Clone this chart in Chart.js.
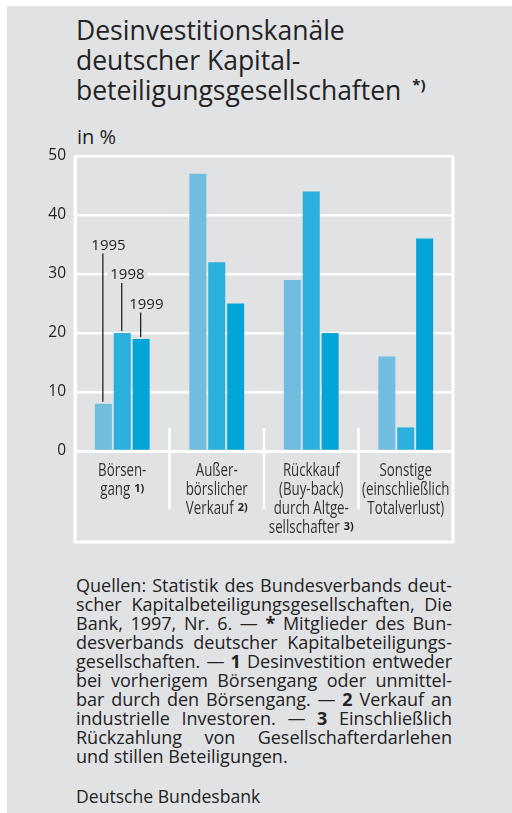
<!DOCTYPE html>
<html lang="de">
<head>
    <meta charset="UTF-8">
    <title>Desinvestitionskanäle</title>
    <style>
        * { margin: 0; padding: 0; box-sizing: border-box; }
        body { background: #fff; width: 512px; height: 813px; position: relative; overflow: hidden; font-family: "Open Sans", sans-serif; color: #232323; }
        .panel { position: absolute; left: 7px; top: 6px; width: 505px; height: 807px; background: #e1e2e4; }
        .title { position: absolute; left: 76px; top: 14.7px; font-size: 26.5px; line-height: 30px; white-space: nowrap; }
        .title sup { font-size: 15px; line-height: 0; font-weight: bold; vertical-align: 10px; margin-left: 4px; }
        .unit { position: absolute; left: 77px; top: 127px; font-size: 20px; line-height: 20px; }
        #chart { position: absolute; left: 0; top: 120px; }
        .notes { position: absolute; left: 76px; top: 575.5px; width: 376px; font-size: 18px; line-height: 19.1px; }
        .notes div { white-space: nowrap; text-align: justify; text-align-last: justify; }
        .notes div.last { text-align-last: left; }
        .source { position: absolute; left: 76px; top: 786.5px; font-size: 17.6px; line-height: 19.1px; }
    </style>
    <script src="https://cdn.jsdelivr.net/npm/chart.js"></script>
</head>
<body>
    <div class="panel"></div>
    <div class="title">Desinvestitionskanäle<br>deutscher Kapital-<br>beteiligungsgesellschaften <sup>*)</sup></div>
    <div class="unit">in %</div>
    <canvas id="chart" width="512" height="440"></canvas>
    <div class="notes">
        <div>Quellen: Statistik des Bundesverbands deut-</div>
        <div>scher Kapitalbeteiligungsgesellschaften, Die</div>
        <div>Bank, 1997, Nr. 6. — <b>*</b> Mitglieder des Bun-</div>
        <div>desverbands deutscher Kapitalbeteiligungs-</div>
        <div>gesellschaften. — <b>1</b> Desinvestition entweder</div>
        <div>bei vorherigem Börsengang oder unmittel-</div>
        <div>bar durch den Börsengang. — <b>2</b> Verkauf an</div>
        <div>industrielle Investoren. — <b>3</b> Einschließlich</div>
        <div>Rückzahlung von Gesellschafterdarlehen</div>
        <div class="last">und stillen Beteiligungen.</div>
    </div>
    <div class="source">Deutsche Bundesbank</div>

    <script>
        // data
        const categories = [
            ['Börsen-', 'gang'],
            ['Außer-', 'börslicher', 'Verkauf'],
            ['Rückkauf', '(Buy-back)', 'durch Altge-', 'sellschafter'],
            ['Sonstige', '(einschließlich', 'Totalverlust)']
        ];
        const footnotes = ['1)', '2)', '3)', ''];
        const years = ['1995', '1998', '1999'];
        const values1995 = [8, 47, 29, 16];
        const values1998 = [20, 32, 44, 4];
        const values1999 = [19, 25, 20, 36];
        const yTicks = [0, 10, 20, 30, 40, 50];

        const colors = ['#70bddf', '#29b0dc', '#03a4d7'];
        const bg = '#e1e2e4';
        const ink = '#232323';

        // white frame, category dividers and box below the zero line
        const framePlugin = {
            id: 'frame',
            beforeDatasetsDraw(chart) {
                const { ctx, chartArea: a, scales: { x } } = chart;
                const boxBottom = a.bottom + 91;
                ctx.save();
                ctx.strokeStyle = '#fff';
                ctx.lineWidth = 3;
                ctx.beginPath();
                ctx.moveTo(a.left, a.top);
                ctx.lineTo(a.left, boxBottom);
                ctx.lineTo(a.right, boxBottom);
                ctx.lineTo(a.right, a.top);
                ctx.stroke();
                ctx.lineWidth = 2.5;
                for (let i = 0; i < categories.length - 1; i++) {
                    const xm = (x.getPixelForValue(i) + x.getPixelForValue(i + 1)) / 2;
                    ctx.beginPath();
                    ctx.moveTo(xm, a.bottom - 23);
                    ctx.lineTo(xm, a.bottom + 58);
                    ctx.stroke();
                }
                ctx.restore();
            },
            // category names, condensed by a horizontal squeeze
            afterDraw(chart) {
                const { ctx, chartArea: a, scales: { x } } = chart;
                const sx = 0.76;
                const labelFont = '17.5px "Open Sans", sans-serif';
                const noteFont = 'bold 11px "Open Sans", sans-serif';
                ctx.save();
                ctx.textBaseline = 'alphabetic';
                ctx.textAlign = 'left';
                categories.forEach((lines, i) => {
                    const cx = x.getPixelForValue(i);
                    lines.forEach((line, j) => {
                        const y = a.bottom + 25 + j * 19;
                        ctx.font = labelFont;
                        const w = ctx.measureText(line).width * sx;
                        const withNote = j === lines.length - 1 && footnotes[i];
                        let nw = 0;
                        if (withNote) {
                            ctx.font = noteFont;
                            nw = ctx.measureText(footnotes[i]).width + 4;
                        }
                        const left = cx - (w + nw) / 2;
                        ctx.save();
                        ctx.font = labelFont;
                        ctx.fillStyle = '#333';
                        ctx.translate(left, y);
                        ctx.scale(sx, 1);
                        ctx.fillText(line, 0, 0);
                        ctx.restore();
                        if (withNote) {
                            ctx.font = noteFont;
                            ctx.fillStyle = ink;
                            ctx.fillText(footnotes[i], left + w + 4, y - 3);
                        }
                    });
                });
                ctx.restore();
            }
        };

        // year labels with leader lines on the first group
        const yearPlugin = {
            id: 'years',
            afterDatasetsDraw(chart, args, opts) {
                const { ctx, scales: { y } } = chart;
                ctx.save();
                ctx.font = '15px "Open Sans", sans-serif';
                ctx.textBaseline = 'middle';
                ctx.textAlign = 'left';
                years.forEach((yr, i) => {
                    const bar = chart.getDatasetMeta(i).data[0];
                    const ly = y.getPixelForValue(opts.levels[i]);
                    const lx = bar.x - 12;
                    const w = ctx.measureText(yr).width;
                    ctx.fillStyle = bg;
                    ctx.fillRect(lx - 3, ly - 7, w + 6, 14);
                    ctx.fillStyle = ink;
                    ctx.fillText(yr, lx, ly + 1);
                    ctx.strokeStyle = ink;
                    ctx.lineWidth = 1.3;
                    ctx.beginPath();
                    ctx.moveTo(bar.x - 0.5, ly + 9);
                    ctx.lineTo(bar.x - 0.5, bar.y - 2);
                    ctx.stroke();
                });
                ctx.restore();
            }
        };

        const seriesValues = [values1995, values1998, values1999];

        new Chart(document.getElementById('chart'), {
            type: 'bar',
            data: {
                labels: categories.map(c => c.join(' ')),
                datasets: years.map((yr, i) => ({
                    label: yr,
                    data: seriesValues[i],
                    backgroundColor: colors[i],
                    borderWidth: 0,
                    barPercentage: 0.9,
                    categoryPercentage: 0.6
                }))
            },
            options: {
                responsive: false,
                animation: false,
                layout: { padding: { left: 0, right: 59, top: 36, bottom: 0 } },
                plugins: {
                    legend: { display: false },
                    tooltip: { enabled: false },
                    years: { levels: [35, 30, 25] }
                },
                scales: {
                    x: {
                        afterFit(scale) { scale.height = 109; },
                        grid: { display: false },
                        border: { display: true, color: '#fff', width: 3 },
                        ticks: { display: false }
                    },
                    y: {
                        min: 0,
                        max: 50,
                        afterFit(scale) { scale.width = 75; },
                        afterBuildTicks(scale) { scale.ticks = yTicks.map(v => ({ value: v })); },
                        grid: { color: '#fff', lineWidth: 2.5, drawTicks: false },
                        border: { display: true, color: '#fff', width: 3 },
                        ticks: {
                            padding: 9,
                            color: ink,
                            font: { family: '"Open Sans", sans-serif', size: 15.5 }
                        }
                    }
                }
            },
            plugins: [framePlugin, yearPlugin]
        });
    </script>
</body>
</html>
